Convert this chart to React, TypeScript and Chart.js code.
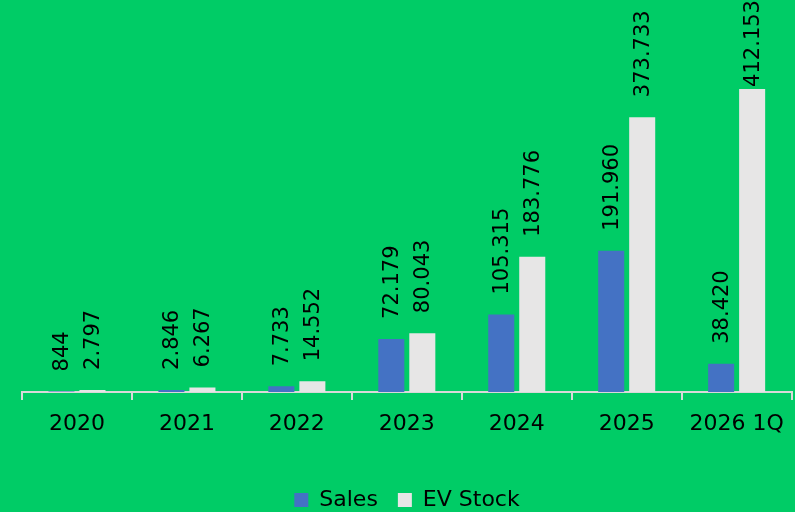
import React, { useEffect, useRef } from "react";
import { Chart, registerables } from "chart.js";

Chart.register(...registerables);

const categories = ["2020", "2021", "2022", "2023", "2024", "2025", "2026 1Q"];
const salesValues = [844, 2846, 7733, 72179, 105315, 191960, 38420];
const evStockValues = [2797, 6267, 14552, 80043, 183776, 373733, 412153];

const FONT = '"DejaVu Sans"';
const BG = "#00CC66";

const fmt = (n: number) => String(n).replace(/\B(?=(\d{3})+(?!\d))/g, ".");

const labelPlugin = {
  id: "verticalLabels",
  afterDatasetsDraw(chart: any) {
    const ctx = chart.ctx;
    chart.data.datasets.forEach((ds: any, i: number) => {
      const meta = chart.getDatasetMeta(i);
      meta.data.forEach((bar: any, j: number) => {
        const text = fmt(ds.data[j] as number);
        ctx.save();
        ctx.font = `21px ${FONT}`;
        const w = ctx.measureText(text).width;
        let start = bar.y - 20;
        if (start - w < 3) start = Math.min(3 + w, bar.y - 2);
        ctx.translate(bar.x + 1, start);
        ctx.rotate(-Math.PI / 2);
        ctx.fillStyle = "#000";
        ctx.textAlign = "left";
        ctx.textBaseline = "middle";
        ctx.fillText(text, 0, 0);
        ctx.restore();
      });
    });
  },
};

export default function App() {
  const ref = useRef<HTMLCanvasElement>(null);
  useEffect(() => {
    if (!ref.current) return;
    const chart = new Chart(ref.current, {
      type: "bar",
      data: {
        labels: categories,
        datasets: [
          {
            label: "Sales",
            data: salesValues,
            backgroundColor: "#4472C4",
            categoryPercentage: 0.564,
            barPercentage: 0.84,
          },
          {
            label: "EV Stock",
            data: evStockValues,
            backgroundColor: "#E7E6E6",
            categoryPercentage: 0.564,
            barPercentage: 0.84,
          },
        ],
      },
      options: {
        responsive: false,
        animation: false,
        layout: { padding: { left: 22, right: 3, top: 0, bottom: -9 } },
        plugins: {
          legend: {
            position: "bottom",
            labels: {
              color: "#000",
              font: { family: FONT, size: 22 },
              boxWidth: 14,
              boxHeight: 14,
              padding: 20,
            },
          },
          tooltip: { enabled: false },
        },
        scales: {
          y: { display: false, min: 0, max: 533000 },
          x: {
            grid: {
              display: true,
              drawOnChartArea: false,
              drawTicks: true,
              tickLength: 8,
              offset: true,
              color: "#D9D9D9",
              lineWidth: 2,
            },
            border: { display: true, color: "#D9D9D9", width: 2 },
            ticks: {
              color: "#000",
              font: { family: FONT, size: 22 },
              padding: 11,
              maxRotation: 0,
            },
            afterFit: (scale: any) => {
              scale.height = 77;
            },
          },
        },
      },
      plugins: [labelPlugin],
    });
    return () => chart.destroy();
  }, []);
  return (
    <div
      style={{
        position: "absolute",
        left: 0,
        top: 0,
        width: 795,
        height: 512,
        background: BG,
      }}
    >
      <canvas ref={ref} width={795} height={512} style={{ display: "block" }} />
    </div>
  );
}
